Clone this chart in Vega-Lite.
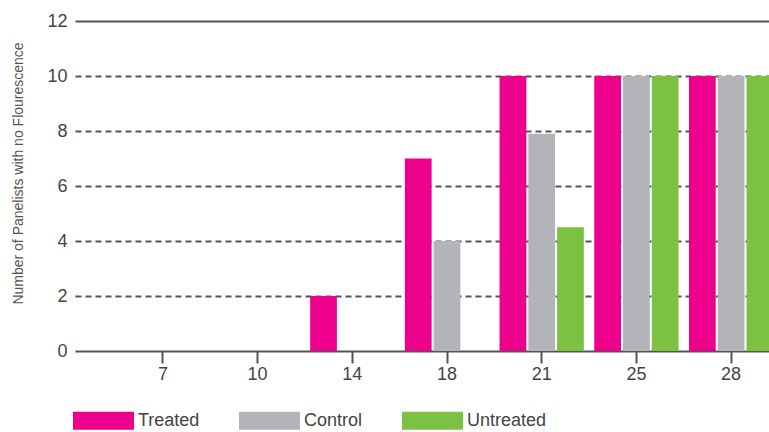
{
  "$schema": "https://vega.github.io/schema/vega-lite/v6.json",
  "autosize": {"type": "none"},
  "width": 694,
  "height": 330,
  "padding": {"left": 75, "top": 21, "right": 0, "bottom": 81},
  "background": "white",
  "data": {
    "values": [
      {"day": "7", "group": "Treated", "panelists": 0},
      {"day": "7", "group": "Control", "panelists": 0},
      {"day": "7", "group": "Untreated", "panelists": 0},
      {"day": "10", "group": "Treated", "panelists": 0},
      {"day": "10", "group": "Control", "panelists": 0},
      {"day": "10", "group": "Untreated", "panelists": 0},
      {"day": "14", "group": "Treated", "panelists": 2},
      {"day": "14", "group": "Control", "panelists": 0},
      {"day": "14", "group": "Untreated", "panelists": 0},
      {"day": "18", "group": "Treated", "panelists": 7},
      {"day": "18", "group": "Control", "panelists": 4},
      {"day": "18", "group": "Untreated", "panelists": 0},
      {"day": "21", "group": "Treated", "panelists": 10},
      {"day": "21", "group": "Control", "panelists": 7.9},
      {"day": "21", "group": "Untreated", "panelists": 4.5},
      {"day": "25", "group": "Treated", "panelists": 10},
      {"day": "25", "group": "Control", "panelists": 10},
      {"day": "25", "group": "Untreated", "panelists": 10},
      {"day": "28", "group": "Treated", "panelists": 10},
      {"day": "28", "group": "Control", "panelists": 10},
      {"day": "28", "group": "Untreated", "panelists": 10}
    ]
  },
  "mark": {"type": "bar", "clip": true},
  "encoding": {
    "x": {
      "field": "day",
      "type": "ordinal",
      "sort": ["7", "10", "14", "18", "21", "25", "28"],
      "scale": {"range": [0, 744], "paddingInner": 0.11, "paddingOuter": 0.483},
      "axis": {
        "title": null,
        "labelAngle": 0,
        "labelFont": "Liberation Sans",
        "labelFontSize": 18,
        "labelColor": "#444444",
        "labelPadding": 2,
        "domainColor": "#555555",
        "domainWidth": 2,
        "tickColor": "#555555",
        "tickWidth": 2,
        "tickSize": 12,
        "grid": false
      }
    },
    "xOffset": {
      "field": "group",
      "type": "nominal",
      "sort": ["Treated", "Control", "Untreated"],
      "scale": {"paddingInner": 0.07}
    },
    "y": {
      "field": "panelists",
      "type": "quantitative",
      "scale": {"domain": [0, 12], "nice": false},
      "axis": {
        "title": "Number of Panelists with no Flourescence",
        "titleFont": "Liberation Sans",
        "titleFontSize": 14,
        "titleFontWeight": "normal",
        "titleColor": "#555555",
        "titleX": -57,
        "titleY": 152,
        "titleAngle": -90,
        "titleBaseline": "middle",
        "titleAlign": "center",
        "values": [0, 2, 4, 6, 8, 10, 12],
        "labelFont": "Liberation Sans",
        "labelFontSize": 18,
        "labelColor": "#444444",
        "labelPadding": 8,
        "domain": false,
        "ticks": false,
        "grid": true,
        "gridColor": "#555555",
        "gridWidth": 2,
        "gridOpacity": {"condition": {"test": "datum.value === 0", "value": 0}, "value": 1},
        "gridDash": {"condition": {"test": "datum.value === 12", "value": []}, "value": [6, 4]}
      }
    },
    "color": {
      "field": "group",
      "type": "nominal",
      "sort": ["Treated", "Control", "Untreated"],
      "scale": {
        "domain": ["Treated", "Control", "Untreated"],
        "range": ["#EC008C", "#B2B4B7", "#7BC142"]
      },
      "legend": {
        "title": null,
        "orient": "none",
        "direction": "horizontal",
        "legendX": -2,
        "legendY": 369,
        "symbolType": "M-1,-0.295h2v0.59h-2z",
        "symbolSize": 3721,
        "symbolStrokeWidth": 0,
        "symbolOpacity": 1,
        "labelFont": "Liberation Sans",
        "labelFontSize": 18,
        "labelColor": "#444444",
        "labelOffset": 4,
        "columnPadding": 39
      }
    }
  },
  "config": {"view": {"stroke": null}}
}
